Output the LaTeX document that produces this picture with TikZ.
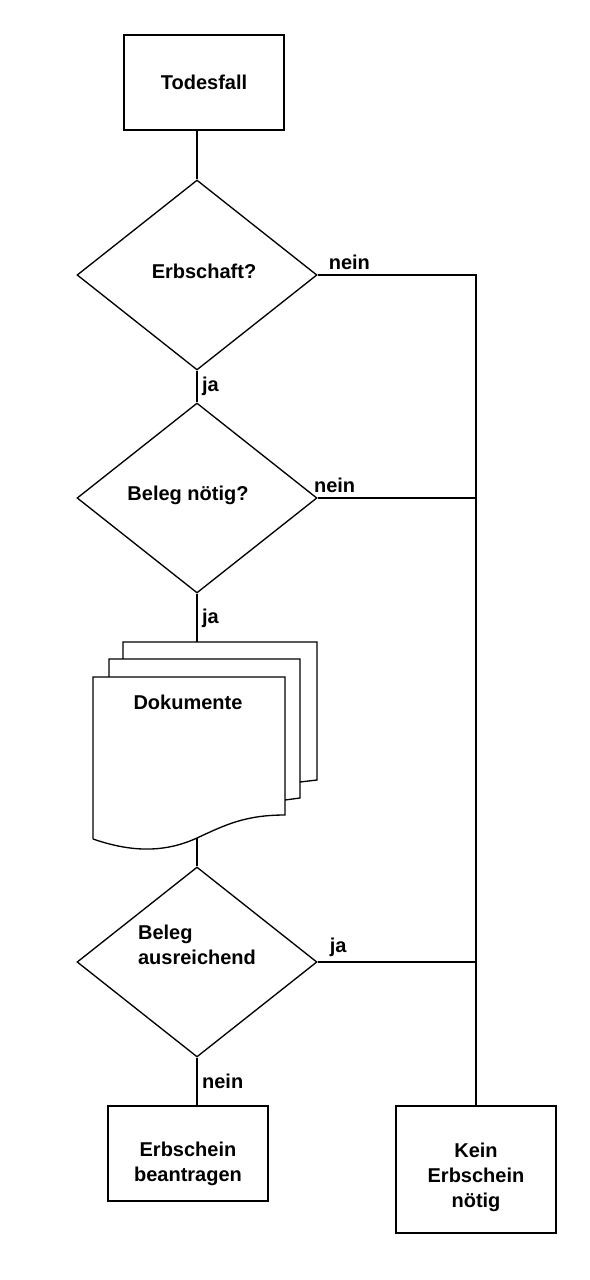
\documentclass[tikz,border=0pt]{standalone}
\usepackage{fontspec}
\setmainfont{Liberation Sans}
\usetikzlibrary{shapes.geometric}

\tikzset{
  procbox/.style={draw, rectangle, minimum width=120pt, minimum height=71.25pt, align=center},
  decision/.style={draw, diamond, minimum width=180pt, minimum height=142.5pt, inner sep=0pt, align=center},
}

\begin{document}
\begin{tikzpicture}[x=0.75pt, y=-0.75pt, line width=1pt, font=\bfseries\fontsize{15}{18.75}\selectfont]
                \useasboundingbox (0,0) rectangle (589,1280);
                \node[procbox] (tod) at (204,82.5) {Todesfall};
                \node[decision, label={[xshift=5.25pt, yshift=3pt]center:Erbschaft?}] (erb) at (197,275) {};
                \node[decision, label={[xshift=-6.75pt, yshift=2.25pt]center:Beleg nötig?}] (bel) at (197,498) {};
                \node[decision, label={[align=left, yshift=12.75pt]center:Beleg\\ausreichend}] (ausr) at (197,962) {};
                \node[procbox, label={[align=center, yshift=-8pt]center:Erbschein\\beantragen}] (bea) at (188,1153.5) {};
                \node[procbox, minimum height=95.25pt, label={[align=center, yshift=-6pt]center:Kein\\Erbschein\\nötig}] (kein) at (476,1169.5) {};
                % document stack
                \draw (123,659) -- (123,642) -- (317,642) -- (317,780) -- (300,782);
                \draw (109,677) -- (109,659) -- (300,659) -- (300,798) -- (285,800);
                \draw (93,839) -- (93,677) -- (285,677) -- (285,815) .. controls (245,815) and (225,825) .. (197,838) .. controls (160,855) and (125,850) .. (93,839);
                \node (doc) at (188,702) {Dokumente};
                \coordinate (dtop) at (197,642);
                \coordinate (dbot) at (197,838);
                \coordinate (j1) at (476,275);
                \coordinate (j2) at (476,498);
                \coordinate (j3) at (476,962);
                \draw (erb.north) -- (erb.north |- tod.south);
                \draw (erb.south) to node[right] {ja} (bel.north);
                \draw (bel.south) to node[right] {ja} (dtop);
                \draw (dbot) to (ausr.north);
                \draw (ausr.south) to node[right] {nein} (ausr.south |- bea.north);
                \draw (erb.east) -- node[pos=0.2, above] {nein} (j1) -- (kein.north);
                \draw (bel.east) to node[pos=0.107, above] {nein} (j2);
                \draw (ausr.east) to node[pos=0.13, above] {ja} (j3);
            \end{tikzpicture}
\end{document}
